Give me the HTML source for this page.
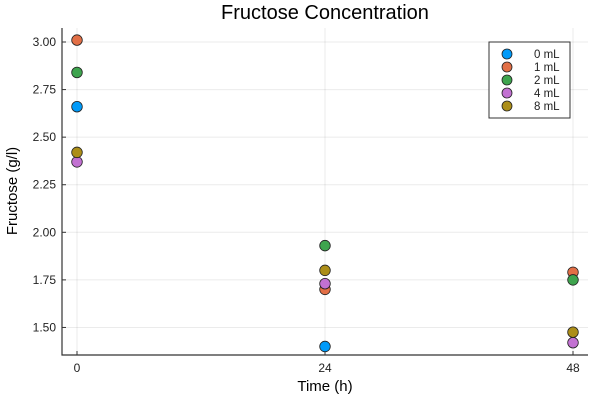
<!DOCTYPE html>
<html><head><meta charset="utf-8"><style>body{margin:0;background:#fff}svg{font-family:"Liberation Sans",sans-serif}</style></head>
<body>
<svg width="600" height="400" id="c">
<rect width="600" height="400" fill="#fff"/>
<text x="325" y="19" font-size="20" text-anchor="middle" fill="#000">Fructose Concentration</text>
<g id="grid"></g>
<g id="axes"></g>
<g id="marks"></g>
<text x="325" y="391" font-size="15" text-anchor="middle">Time (h)</text>
<text transform="translate(17,191) rotate(-90)" font-size="15" text-anchor="middle">Fructose (g/l)</text>
<g id="legend"></g>
</svg>
<script>
const times=[0,24,48];
const seriesNames=["0 mL","1 mL","2 mL","4 mL","8 mL"];
const s0=[2.66,1.40,null];
const s1=[3.01,1.70,1.79];
const s2=[2.84,1.93,1.75];
const s3=[2.37,1.73,1.42];
const s4=[2.42,1.80,1.475];
const yTicks=[1.50,1.75,2.00,2.25,2.50,2.75,3.00];
const xTicks=[0,24,48];
const colors=["#009af9","#e26f46","#3ea44e","#c271d2","#ac8e18"];
const series=[s0,s1,s2,s3,s4];
const X=v=>77+v*(496/48);
const Y=v=>42+(3-v)*190.3;
const NS="http://www.w3.org/2000/svg";
function mk(tag,attrs,parent){const e=document.createElementNS(NS,tag);for(const k in attrs)e.setAttribute(k,attrs[k]);document.getElementById(parent).appendChild(e);return e;}
const L=62,R=588,T=28,B=355;
yTicks.forEach(t=>{
 const g=mk('line',{x1:L,x2:R,y1:Y(t),y2:Y(t),stroke:'#000','stroke-opacity':0.08},'grid');
 
 
 const tx=mk('text',{x:L-6,y:Y(t)+4,'font-size':12,'text-anchor':'end',fill:'#222'},'axes');
 tx.textContent=t.toFixed(2);
 
 
 mk('line',{x1:L,x2:L+4,y1:Y(t),y2:Y(t),stroke:'#333'},'axes');
});
xTicks.forEach(t=>{
 const g=mk('line',{x1:X(t),x2:X(t),y1:T,y2:B,stroke:'#000','stroke-opacity':0.08},'grid');
 
 
 const tx=mk('text',{x:X(t),y:B+17,'font-size':12,'text-anchor':'middle',fill:'#222'},'axes');
 tx.textContent=t;
 
 
 mk('line',{x1:X(t),x2:X(t),y1:B,y2:B-4,stroke:'#333'},'axes');
});
const ax=mk('path',{d:`M${L} ${T}V${B}H${R}`,fill:'none',stroke:'#333','stroke-width':1.2},'axes');


series.forEach((s,i)=>{s.forEach((v,j)=>{if(v==null)return;
 const c=mk('circle',{cx:X(times[j]),cy:Y(v),r:5.3,fill:colors[i],stroke:'#222','stroke-width':0.8},'marks');
 
 
});});
mk('rect',{x:489,y:42,width:81,height:76,fill:'#fff',stroke:'#333','stroke-width':1},'legend');
seriesNames.forEach((n,i)=>{
 const y=54+i*13;
 const c=mk('circle',{cx:507,cy:y,r:5,fill:colors[i],stroke:'#222','stroke-width':0.8},'legend');
 
 
 const t=mk('text',{x:534,y:y+4,'font-size':11.5,fill:'#222'},'legend');
 t.textContent=n;
 
 
});
</script>
</body></html>
